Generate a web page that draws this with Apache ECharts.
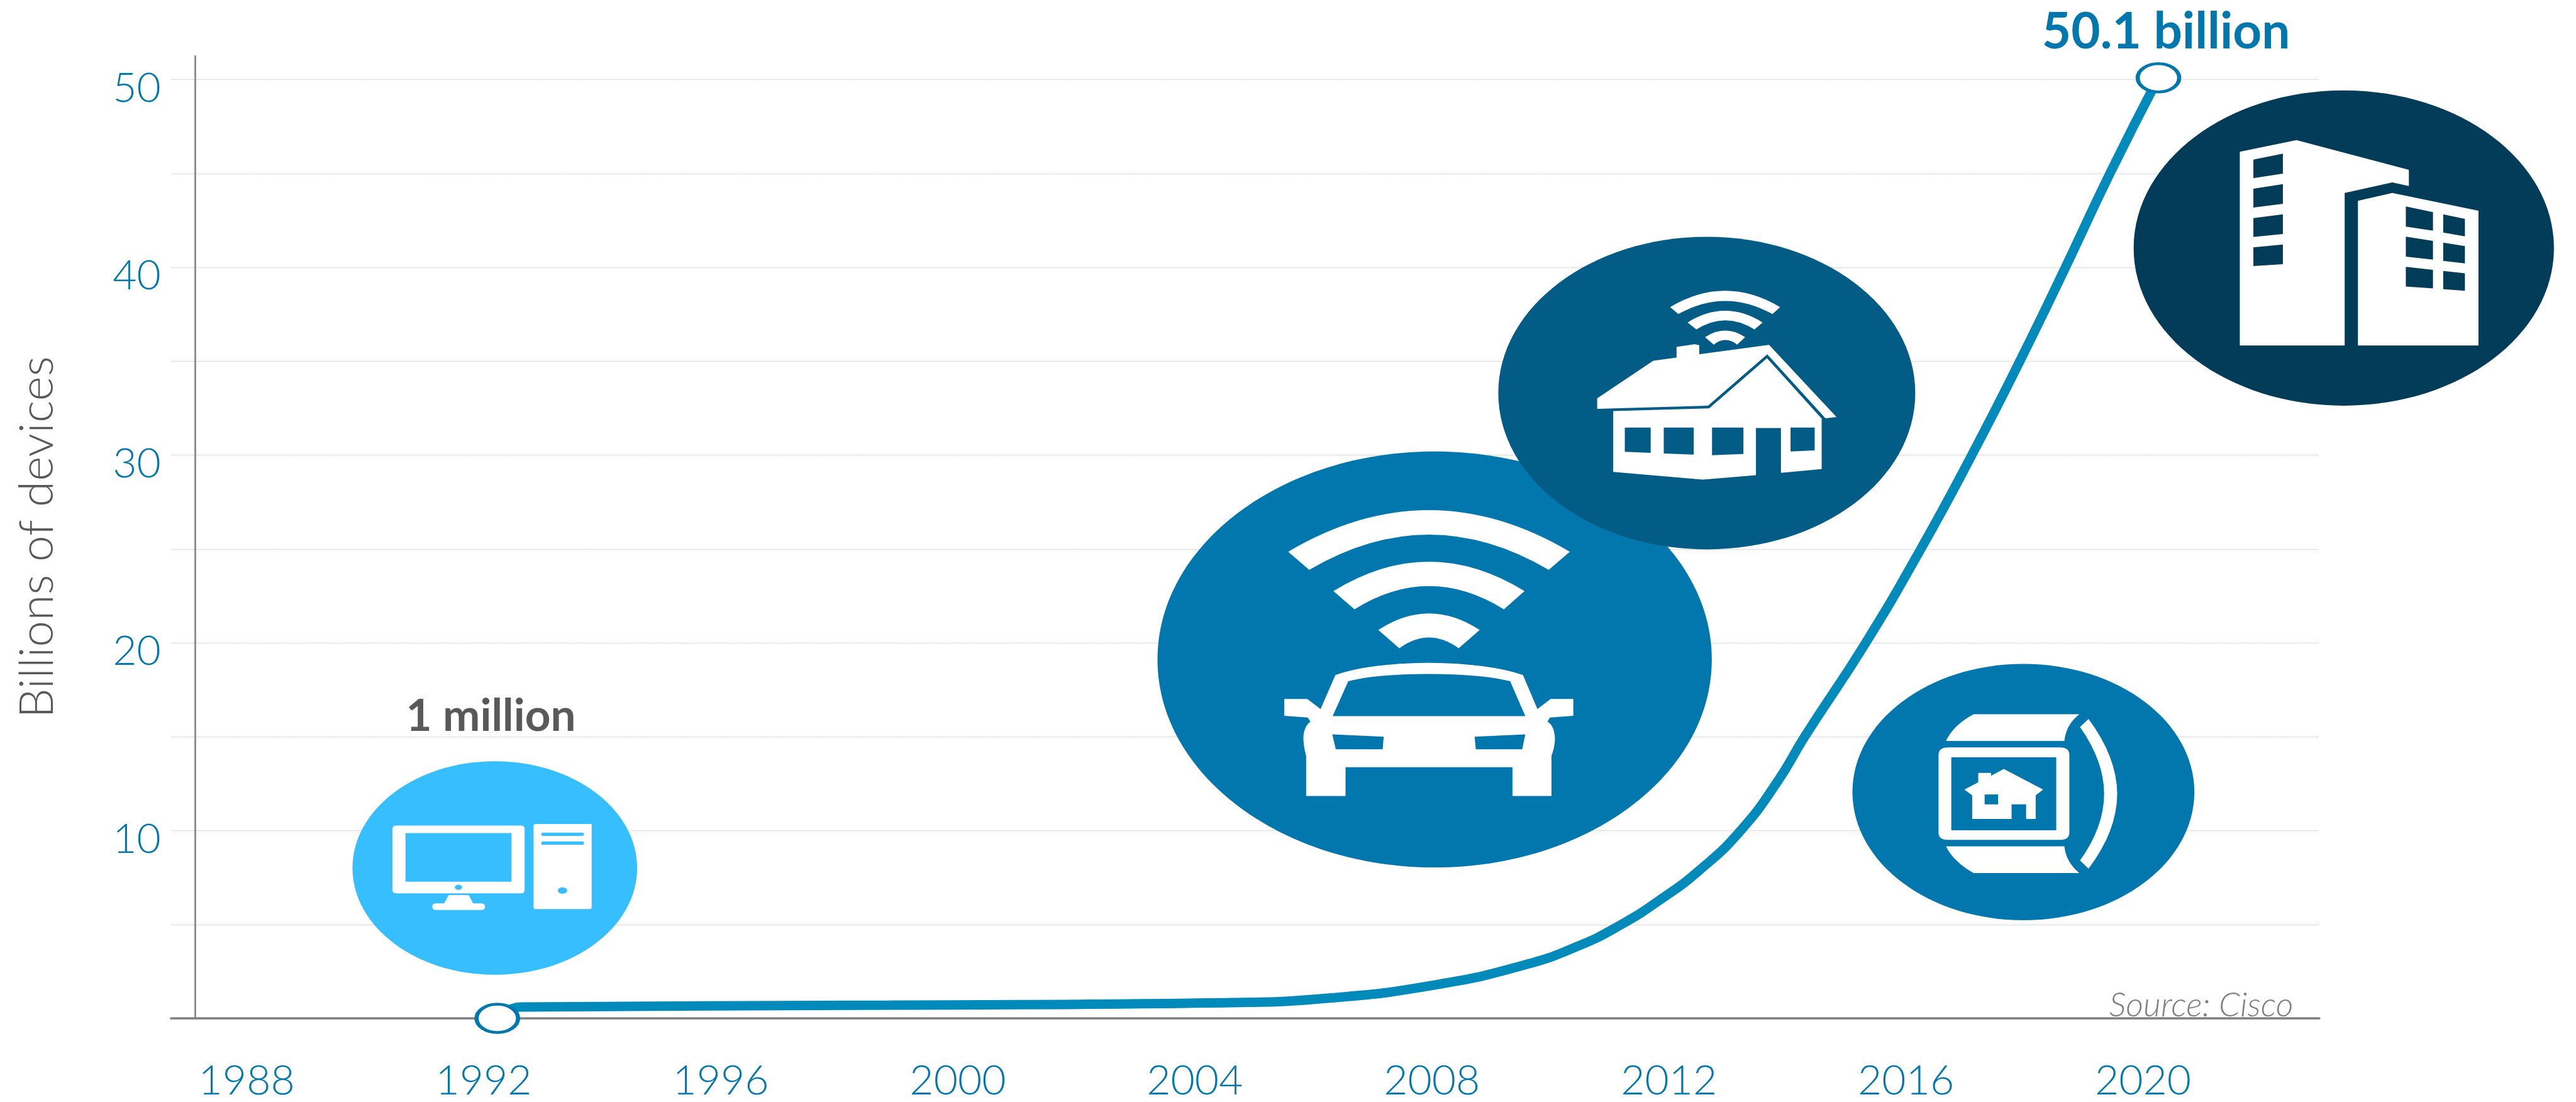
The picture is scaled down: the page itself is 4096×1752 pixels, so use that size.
<!DOCTYPE html>
<html>
<head>
<meta charset="utf-8">
<title>Internet of Things growth</title>
<style>html,body{margin:0;padding:0;background:#fff}#chart{width:4096px;height:1752px}</style>
<script src="https://cdn.jsdelivr.net/npm/echarts@6/dist/echarts.min.js"></script>
</head>
<body>
<div id="chart"></div>
<script>
// Connected devices over time (Cisco)
const curveYears = [1992.23, 1992.62, 1998.85, 2004.48, 2006.27, 2008.07, 2009.56, 2010.46, 2011.17, 2011.83, 2012.5, 2013.21, 2013.85, 2014.29, 2015.32, 2016.25, 2017.11, 2017.92, 2018.69, 2019.44, 2020.26];
const curveBillions = [0.001, 0.6, 0.7, 0.83, 1.08, 1.79, 2.84, 3.84, 4.95, 6.27, 7.85, 10, 12.7, 15, 20, 25, 30, 35, 40, 45, 50.1];
const yearTicks = [1988, 1992, 1996, 2000, 2004, 2008, 2012, 2016, 2020];
const billionTicks = [10, 20, 30, 40, 50];
const startLabel = '1 million';
const endLabel = curveBillions[curveBillions.length - 1] + ' billion';
const axisTitle = 'Billions of devices';
const sourceNote = 'Source: Cisco';

// The whole drawing is laid out on a 4630 wide sheet and scaled to the window.
const S = 0.884;
const BLUE = '#0277AE', LINE = '#028ABB', GREY = '#595959', AXIS = '#7F7F7F';
const FONT = 'Lato';

// Coloured bubbles with their white pictograms. Each icon is authored on its own
// local grid: o is the grid origin on the sheet, k the grid units per sheet unit.
const W = '#FFFFFF';
const bubbles = [
  { fill: '#37BEFF', cx: 890, cy: 1561, rx: 256, ry: 192, o: [600, 1420], k: [2.613, 3], parts: [
    [W, 'M295 194L880 194Q898 194 898 212L898 542Q898 560 880 560L295 560Q277 560 277 542L277 212Q277 194 295 194Z'],
    ['h', 'M338 235L836 235L836 497L338 497Z'],
    ['h', 'M570 527A17 14 0 1 1 604 527A17 14 0 1 1 570 527Z'],
    [W, 'M541 569L635 569L656 614L693 614Q712 614 712 632Q712 650 693 650L482 650Q464 650 464 632Q464 614 482 614L520 614Z'],
    [W, 'M950 186L1213 186L1213 635Q1213 645 1203 645L950 645Q940 645 940 635L940 196Q940 186 950 186Z'],
    ['h', 'M985 232L1167 232Q1177 232 1177 241Q1177 250 1167 250L985 250Q976 250 976 241Q976 232 985 232Z'],
    ['h', 'M985 280L1167 280Q1177 280 1177 289Q1177 298 1167 298L985 298Q976 298 976 289Q976 280 985 280Z'],
    ['h', 'M1054 545A22 17 0 1 1 1098 545A22 17 0 1 1 1054 545Z']
  ]},
  { fill: '#0277AE', cx: 2580.5, cy: 1186, rx: 498.5, ry: 374, o: [2040, 780], k: [1.4255, 1.912], parts: [
    [W, 'M395 406Q756 120 1117 406L1063 468Q756 226 449 468Z'],
    [W, 'M511 541Q756 339 1001 541L948 604Q756 444 565 604Z'],
    [W, 'M626 675Q756 561 886 675L832 738Q756 664 680 738Z'],
    [W, 'M516 830Q600 790 755 788Q910 790 997 830L1034 947L1068 912L1126 912L1126 970L1066 976L1060 990Q1078 1005 1079 1050Q1078 1080 1070 1108L1070 1246L970 1246L970 1147L542 1147L542 1246L441 1246L441 1108Q433 1070 434 1040Q436 1005 452 990L445 976L385 970L385 912L444 912L478 947Z'],
    ['h', 'M549 851Q620 826 755 826Q890 826 964 851L1003 971L509 971Z'],
    ['h', 'M508 1034L640 1042L637 1085L517 1085Z'],
    ['h', 'M1003 1034L873 1042L876 1085L995 1085Z']
  ]},
  { fill: '#035C85', cx: 3070, cy: 707, rx: 375, ry: 281, o: [2660, 400], k: [1.912, 2.529], parts: [
    [W, 'M658 385Q847 237 1036 385L1010 417Q847 297 686 417Z'],
    [W, 'M718 455Q847 349 976 455L948 487Q848 403 748 487Z'],
    [W, 'M778 522Q847 462 916 522L888 556Q848 514 808 556Z'],
    [W, 'M407 800L600 629L680 615L680 566L742 554L758 558L758 600L998 557L1230 885L1192 891L992 600L788 834L407 848Z'],
    [W, 'M462 858L792 846L991 618L1179 892L1179 1122L1039 1139L1039 935L953 935L953 1150L770 1170L462 1135Z'],
    ['h', 'M502 933L591 933L591 1048L502 1043Z'],
    ['h', 'M636 933L739 933L739 1056L636 1051Z'],
    ['h', 'M802 933L910 933L910 1053L802 1059Z'],
    ['h', 'M1072 933L1155 933L1155 1037L1072 1042Z']
  ]},
  { fill: '#033C59', cx: 4215.8, cy: 446, rx: 378, ry: 283.5, o: [3780, 0], k: [1.845, 2.063], parts: [
    [W, 'M459 563L647 520L1020 630L1020 690L965 677L807 716L807 1282L459 1282Z'],
    [W, 'M851 745L965 716L1251 782L1251 1282L851 1282Z'],
    ['h', 'M504 592L602 570L602 644L504 661Z'],
    ['h', 'M504 700L602 683L602 756L504 770Z'],
    ['h', 'M504 809L602 795L602 868L504 879Z'],
    ['h', 'M504 918L602 907L602 980L504 987Z'],
    ['h', 'M1010 766L1100 787L1100 856L1010 841Z'],
    ['h', 'M1134 795L1206 812L1206 877L1134 863Z'],
    ['h', 'M1010 878L1100 894L1100 963L1010 952Z'],
    ['h', 'M1134 900L1206 913L1206 977L1134 968Z'],
    ['h', 'M1010 990L1100 1001L1100 1070L1010 1063Z'],
    ['h', 'M1134 1005L1206 1014L1206 1079L1134 1073Z']
  ]},
  { fill: '#0277AE', cx: 3639.5, cy: 1424.5, rx: 307.5, ry: 230.5, o: [3300, 1160], k: [1.568, 1.912], parts: [
    [W, 'M314 330Q335 275 392 238L690 238Q652 275 648 330Z'],
    [W, 'M314 692L648 692Q652 745 690 784L392 784Q335 745 314 692Z'],
    [W, 'M320 352L635 352Q662 352 662 378L662 645Q662 670 635 670L320 670Q293 670 293 645L293 378Q293 352 320 352Z'],
    ['h', 'M329 386L625 386L625 637L329 637Z'],
    [W, 'M692 282L716 254Q796 385 797 512Q796 640 716 769L692 741Q760 625 760 512Q760 400 692 282Z'],
    [W, 'M366 497L405 472L405 440L441 440L441 450L477 426L588 497L567 517L567 598L540 598L540 548L499 548L499 598L388 598L388 517Z'],
    ['h', 'M423 514L461 514L461 548L423 548Z']
  ]}
];

function renderBubble(params) {
  const b = bubbles[params.dataIndex];
  const icon = b.parts.map(function (p) {
    return { type: 'path', shape: { pathData: p[1] }, style: { fill: p[0] === 'h' ? b.fill : p[0] } };
  });
  return {
    type: 'group',
    children: [
      { type: 'ellipse', shape: { cx: b.cx * S, cy: b.cy * S, rx: b.rx * S, ry: b.ry * S }, style: { fill: b.fill } },
      { type: 'group', x: b.o[0] * S, y: b.o[1] * S, scaleX: S / b.k[0], scaleY: S / b.k[1], children: icon }
    ]
  };
}

const curve = curveYears.map(function (y, i) { return [y, curveBillions[i]]; });
const lastIndex = curve.length - 1;

const chart = echarts.init(document.getElementById('chart'), null, { renderer: 'canvas' });
chart.setOption({
  animation: false,
  backgroundColor: '#FFFFFF',
  grid: { left: 271.9, top: 89.1, width: 3416, height: 1531.7, containLabel: false },
  xAxis: {
    type: 'value',
    min: 1986.724,
    max: 2022.975,
    axisLine: { show: true, onZero: false, lineStyle: { color: AXIS, width: 3.5 } },
    axisTick: { show: false },
    splitLine: { show: false },
    axisLabel: {
      customValues: yearTicks,
      formatter: function (v) { return String(v); },
      color: BLUE, fontFamily: FONT, fontWeight: 300, fontSize: 66, margin: 67
    }
  },
  yAxis: {
    type: 'value',
    min: 0,
    max: 51.26,
    interval: 5,
    offset: -37.9,
    name: axisTitle,
    nameLocation: 'middle',
    nameGap: 212,
    nameRotate: 90,
    nameTextStyle: { color: GREY, fontFamily: FONT, fontWeight: 300, fontSize: 75 },
    axisLine: { show: true, onZero: false, lineStyle: { color: AXIS, width: 2.6 } },
    axisTick: { show: false },
    splitLine: { show: true, showMinLine: false, showMaxLine: false, lineStyle: { color: '#BDBDBD', width: 1, type: 'dotted' } },
    axisLabel: {
      customValues: billionTicks,
      formatter: function (v) { return String(v); },
      color: BLUE, fontFamily: FONT, fontWeight: 300, fontSize: 66,
      margin: 54, verticalAlign: 'top', lineHeight: 28
    }
  },
  graphic: [
    { type: 'text', z: 20, x: 883 * S, y: 1289 * S, style: { text: startLabel, fill: GREY, font: 'bold 71px ' + FONT, textAlign: 'center', textVerticalAlign: 'middle' } },
    { type: 'text', z: 20, x: 3896 * S, y: 58 * S, style: { text: endLabel, fill: BLUE, font: 'bold 80px ' + FONT, textAlign: 'center', textVerticalAlign: 'middle' } },
    { type: 'text', z: 20, x: 4125 * S, y: 1808 * S, style: { text: sourceNote, fill: AXIS, font: 'italic 300 54px ' + FONT, textAlign: 'right', textVerticalAlign: 'middle' } }
  ],
  series: [
    {
      type: 'custom',
      coordinateSystem: 'none',
      silent: true,
      z: 3,
      data: bubbles.map(function (b, i) { return i; }),
      renderItem: renderBubble
    },
    {
      type: 'line',
      z: 4,
      data: curve,
      smooth: 0.5,
      showSymbol: false,
      lineStyle: { color: LINE, width: 15, cap: 'butt' },
      silent: true
    },
    {
      type: 'scatter',
      z: 5,
      data: [curve[0], curve[lastIndex]],
      symbol: 'circle',
      symbolSize: [66, 45],
      itemStyle: { color: '#FFFFFF', opacity: 1, borderColor: BLUE, borderWidth: 5.5 },
      silent: true
    }
  ]
});
</script>
</body>
</html>
